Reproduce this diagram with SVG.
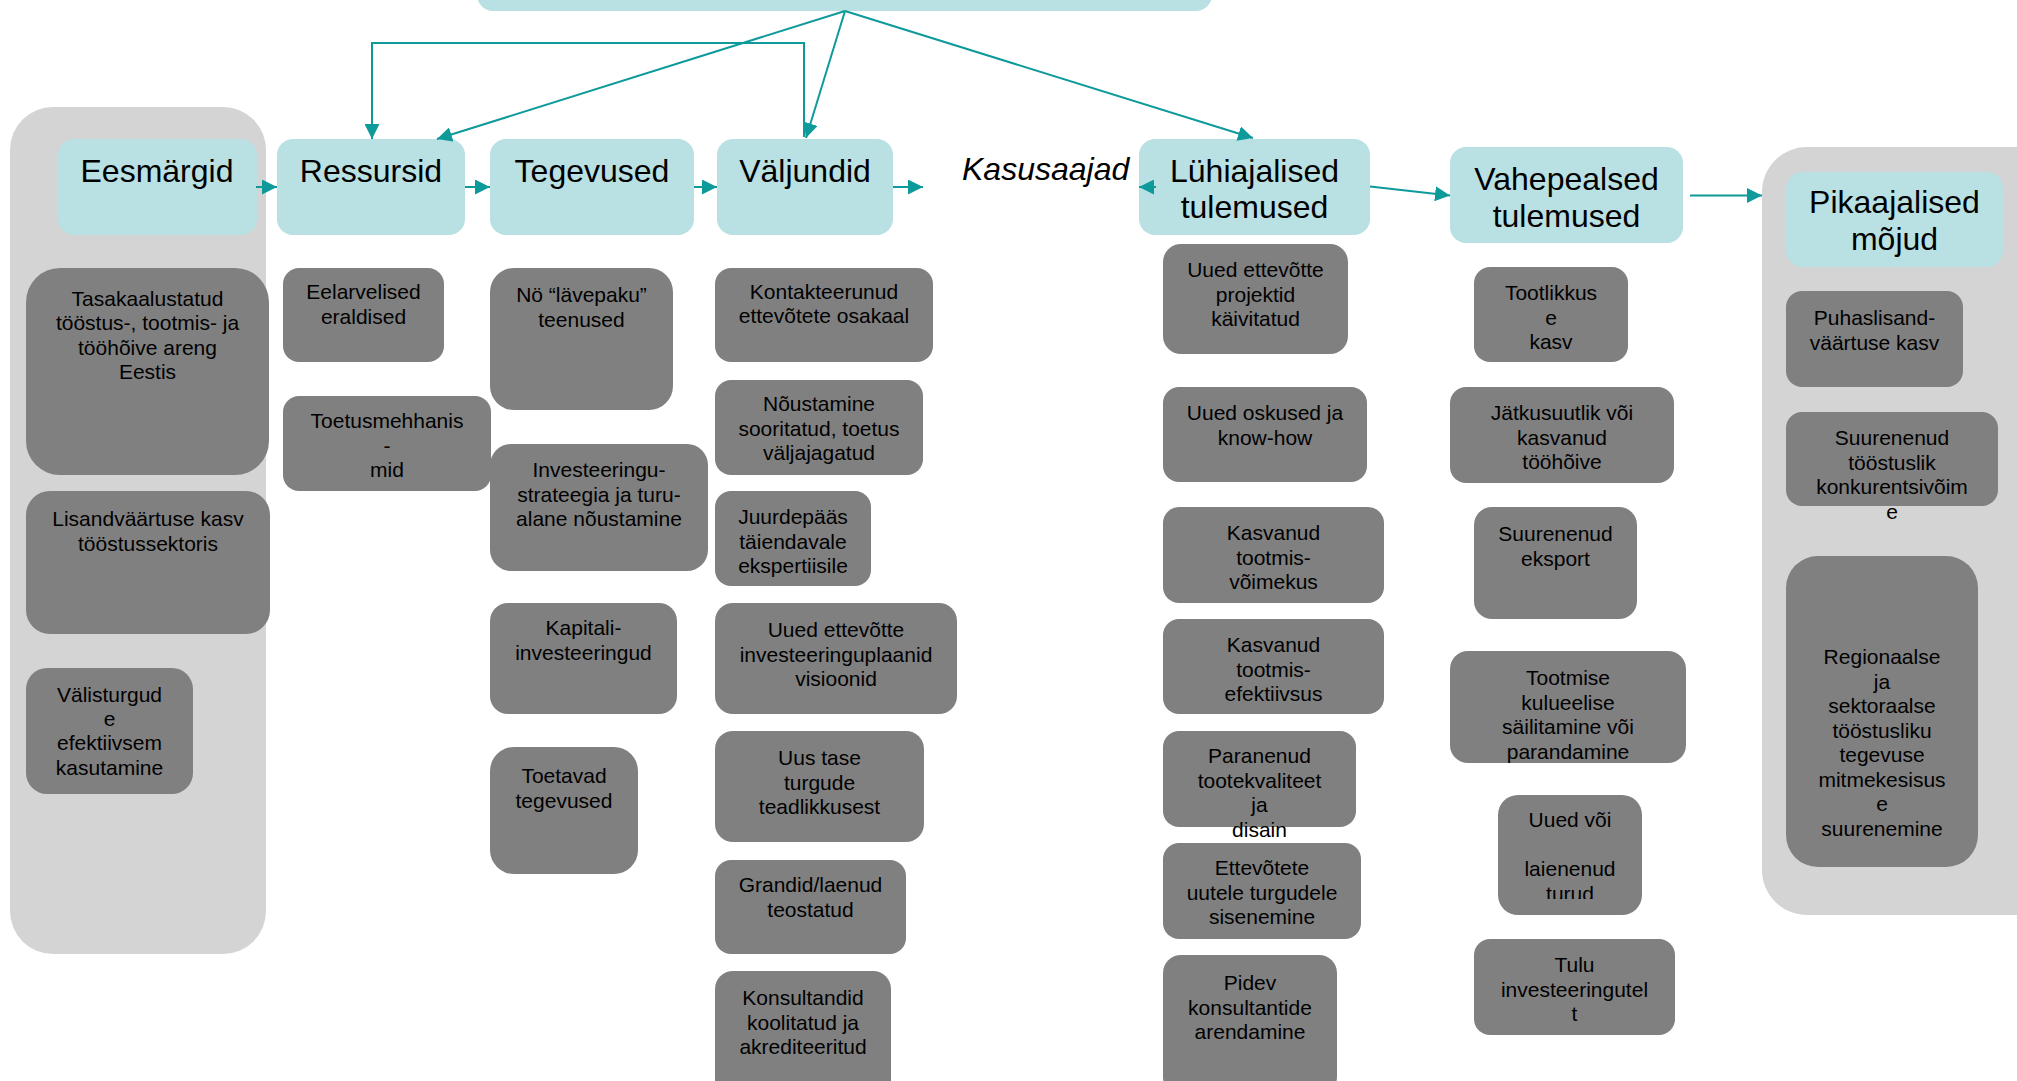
<svg xmlns="http://www.w3.org/2000/svg" width="2017" height="1081" viewBox="0 0 2017 1081">
  <style>
    .panel { fill: #D4D4D4; }
    .hdr { fill: #B9E0E3; }
    .box { fill: #808080; }
    text { font-family: "Liberation Sans", Arial, sans-serif; fill: #000; text-anchor: middle; }
    .h { font-size: 32px; }
    .t { font-size: 21px; }
    .it { font-size: 32px; font-style: italic; text-anchor: start; }
    .link { fill: none; stroke: #0E9A9A; stroke-width: 2; }
  </style>
  <defs>
    <marker id="arrow" viewBox="0 0 15 15" refX="15" refY="7.5" markerWidth="15" markerHeight="15" markerUnits="userSpaceOnUse" orient="auto">
      <path d="M0,0 L15,7.5 L0,15 z" fill="#0E9A9A"/>
    </marker>
    <clipPath id="clipTurud">
      <rect x="1498" y="795" width="144" height="104"/>
    </clipPath>
  </defs>
  <rect width="2017" height="1081" fill="#FFFFFF"/>

  <!-- background panels -->
  <rect class="panel" x="10" y="107" width="256" height="847" rx="43"/>
  <rect class="panel" x="1762" y="147" width="300" height="768" rx="45"/>

  <!-- top banner -->
  <g id="top">
    <rect class="hdr" x="477" y="-40" width="735" height="51" rx="16"/>
  </g>

  <!-- column headers -->
  <g id="eesmargid"><rect class="hdr" x="58" y="139" width="199" height="96" rx="16"/><text class="h" x="157" y="182">Eesmärgid</text></g>
  <g id="ressursid"><rect class="hdr" x="277" y="139" width="188" height="96" rx="16"/><text class="h" x="371" y="182">Ressursid</text></g>
  <g id="tegevused"><rect class="hdr" x="490" y="139" width="204" height="96" rx="16"/><text class="h" x="592" y="182">Tegevused</text></g>
  <g id="valjundid"><rect class="hdr" x="717" y="139" width="176" height="96" rx="16"/><text class="h" x="805" y="182">Väljundid</text></g>
  <g id="kasusaajad"><text class="it" x="962" y="180">Kasusaajad</text></g>
  <g id="luhiajalised"><rect class="hdr" x="1139" y="139" width="231" height="96" rx="16"/><text class="h" x="1254.5" y="182">Lühiajalised</text><text class="h" x="1254.5" y="218">tulemused</text></g>
  <g id="vahepealsed"><rect class="hdr" x="1450" y="147" width="233" height="96" rx="16"/><text class="h" x="1566.5" y="190">Vahepealsed</text><text class="h" x="1566.5" y="227">tulemused</text></g>
  <g id="pikaajalised"><rect class="hdr" x="1786" y="172" width="217" height="95" rx="16"/><text class="h" x="1894.5" y="213">Pikaajalised</text><text class="h" x="1894.5" y="250">mõjud</text></g>

  <!-- Eesmärgid items -->
  <g id="e1"><rect class="box" x="26" y="268" width="243" height="207" rx="34"/>
    <text class="t" x="147.5" y="306">Tasakaalustatud</text><text class="t" x="147.5" y="330.4">tööstus-, tootmis- ja</text><text class="t" x="147.5" y="354.8">tööhõive areng</text><text class="t" x="147.5" y="379.2">Eestis</text></g>
  <g id="e2"><rect class="box" x="26" y="491" width="244" height="143" rx="24"/>
    <text class="t" x="148" y="526">Lisandväärtuse kasv</text><text class="t" x="148" y="550.5">tööstussektoris</text></g>
  <g id="e3"><rect class="box" x="26" y="668" width="167" height="126" rx="21"/>
    <text class="t" x="109.5" y="701.5">Välisturgud</text><text class="t" x="109.5" y="725.9">e</text><text class="t" x="109.5" y="750.3">efektiivsem</text><text class="t" x="109.5" y="774.7">kasutamine</text></g>

  <!-- Ressursid items -->
  <g id="r1"><rect class="box" x="283" y="268" width="161" height="94" rx="16"/>
    <text class="t" x="363.5" y="299">Eelarvelised</text><text class="t" x="363.5" y="323.5">eraldised</text></g>
  <g id="r2"><rect class="box" x="283" y="396" width="208" height="95" rx="16"/>
    <text class="t" x="387" y="428">Toetusmehhanis</text><text class="t" x="387" y="452.5">-</text><text class="t" x="387" y="477">mid</text></g>

  <!-- Tegevused items -->
  <g id="t1"><rect class="box" x="490" y="268" width="183" height="142" rx="24"/>
    <text class="t" x="581.5" y="302">Nö “lävepaku”</text><text class="t" x="581.5" y="326.5">teenused</text></g>
  <g id="t2"><rect class="box" x="490" y="444" width="218" height="127" rx="21"/>
    <text class="t" x="599" y="477">Investeeringu-</text><text class="t" x="599" y="501.5">strateegia ja turu-</text><text class="t" x="599" y="526">alane nõustamine</text></g>
  <g id="t3"><rect class="box" x="490" y="603" width="187" height="111" rx="18"/>
    <text class="t" x="583.5" y="635">Kapitali-</text><text class="t" x="583.5" y="659.5">investeeringud</text></g>
  <g id="t4"><rect class="box" x="490" y="747" width="148" height="127" rx="24"/>
    <text class="t" x="564" y="783">Toetavad</text><text class="t" x="564" y="807.5">tegevused</text></g>

  <!-- Väljundid items -->
  <g id="v1"><rect class="box" x="715" y="268" width="218" height="94" rx="16"/>
    <text class="t" x="824" y="298.5">Kontakteerunud</text><text class="t" x="824" y="323">ettevõtete osakaal</text></g>
  <g id="v2"><rect class="box" x="715" y="380" width="208" height="95" rx="16"/>
    <text class="t" x="819" y="411">Nõustamine</text><text class="t" x="819" y="435.5">sooritatud, toetus</text><text class="t" x="819" y="460">väljajagatud</text></g>
  <g id="v3"><rect class="box" x="715" y="491" width="156" height="95" rx="16"/>
    <text class="t" x="793" y="524">Juurdepääs</text><text class="t" x="793" y="548.5">täiendavale</text><text class="t" x="793" y="573">ekspertiisile</text></g>
  <g id="v4"><rect class="box" x="715" y="603" width="242" height="111" rx="18"/>
    <text class="t" x="836" y="637">Uued ettevõtte</text><text class="t" x="836" y="661.5">investeeringuplaanid</text><text class="t" x="836" y="686">visioonid</text></g>
  <g id="v5"><rect class="box" x="715" y="731" width="209" height="111" rx="18"/>
    <text class="t" x="819.5" y="765">Uus tase</text><text class="t" x="819.5" y="789.5">turgude</text><text class="t" x="819.5" y="814">teadlikkusest</text></g>
  <g id="v6"><rect class="box" x="715" y="860" width="191" height="94" rx="16"/>
    <text class="t" x="810.5" y="892">Grandid/laenud</text><text class="t" x="810.5" y="916.5">teostatud</text></g>
  <g id="v7"><rect class="box" x="715" y="971" width="176" height="140" rx="18"/>
    <text class="t" x="803" y="1005">Konsultandid</text><text class="t" x="803" y="1029.5">koolitatud ja</text><text class="t" x="803" y="1054">akrediteeritud</text></g>

  <!-- Lühiajalised tulemused items -->
  <g id="l1"><rect class="box" x="1163" y="244" width="185" height="110" rx="18"/>
    <text class="t" x="1255.5" y="277">Uued ettevõtte</text><text class="t" x="1255.5" y="301.5">projektid</text><text class="t" x="1255.5" y="326">käivitatud</text></g>
  <g id="l2"><rect class="box" x="1163" y="387" width="204" height="95" rx="16"/>
    <text class="t" x="1265" y="420">Uued oskused ja</text><text class="t" x="1265" y="444.5">know-how</text></g>
  <g id="l3"><rect class="box" x="1163" y="507" width="221" height="96" rx="16"/>
    <text class="t" x="1273.5" y="540">Kasvanud</text><text class="t" x="1273.5" y="564.5">tootmis-</text><text class="t" x="1273.5" y="589">võimekus</text></g>
  <g id="l4"><rect class="box" x="1163" y="619" width="221" height="95" rx="16"/>
    <text class="t" x="1273.5" y="652">Kasvanud</text><text class="t" x="1273.5" y="676.5">tootmis-</text><text class="t" x="1273.5" y="701">efektiivsus</text></g>
  <g id="l5"><rect class="box" x="1163" y="731" width="193" height="96" rx="16"/>
    <text class="t" x="1259.5" y="763">Paranenud</text><text class="t" x="1259.5" y="787.5">tootekvaliteet</text><text class="t" x="1259.5" y="812">ja</text><text class="t" x="1259.5" y="836.5">disain</text></g>
  <g id="l6"><rect class="box" x="1163" y="843" width="198" height="96" rx="16"/>
    <text class="t" x="1262" y="875">Ettevõtete</text><text class="t" x="1262" y="899.5">uutele turgudele</text><text class="t" x="1262" y="924">sisenemine</text></g>
  <g id="l7"><rect class="box" x="1163" y="955" width="174" height="140" rx="18"/>
    <text class="t" x="1250" y="990">Pidev</text><text class="t" x="1250" y="1014.5">konsultantide</text><text class="t" x="1250" y="1039">arendamine</text></g>

  <!-- Vahepealsed tulemused items -->
  <g id="m1"><rect class="box" x="1474" y="267" width="154" height="95" rx="16"/>
    <text class="t" x="1551" y="300">Tootlikkus</text><text class="t" x="1551" y="324.5">e</text><text class="t" x="1551" y="349">kasv</text></g>
  <g id="m2"><rect class="box" x="1450" y="387" width="224" height="96" rx="16"/>
    <text class="t" x="1562" y="420">Jätkusuutlik või</text><text class="t" x="1562" y="444.5">kasvanud</text><text class="t" x="1562" y="469">tööhõive</text></g>
  <g id="m3"><rect class="box" x="1474" y="507" width="163" height="112" rx="18"/>
    <text class="t" x="1555.5" y="541">Suurenenud</text><text class="t" x="1555.5" y="565.5">eksport</text></g>
  <g id="m4"><rect class="box" x="1450" y="651" width="236" height="112" rx="18"/>
    <text class="t" x="1568" y="685">Tootmise</text><text class="t" x="1568" y="709.5">kulueelise</text><text class="t" x="1568" y="734">säilitamine või</text><text class="t" x="1568" y="758.5">parandamine</text></g>
  <g id="m5"><rect class="box" x="1498" y="795" width="144" height="120" rx="20"/>
    <g clip-path="url(#clipTurud)"><text class="t" x="1570" y="827">Uued või</text><text class="t" x="1570" y="876">laienenud</text><text class="t" x="1570" y="900.5">turud</text></g></g>
  <g id="m6"><rect class="box" x="1474" y="939" width="201" height="96" rx="16"/>
    <text class="t" x="1574.5" y="972">Tulu</text><text class="t" x="1574.5" y="996.5">investeeringutel</text><text class="t" x="1574.5" y="1021">t</text></g>

  <!-- Pikaajalised mõjud items -->
  <g id="p1"><rect class="box" x="1786" y="291" width="177" height="96" rx="16"/>
    <text class="t" x="1874.5" y="325">Puhaslisand-</text><text class="t" x="1874.5" y="349.5">väärtuse kasv</text></g>
  <g id="p2"><rect class="box" x="1786" y="412" width="212" height="94" rx="16"/>
    <text class="t" x="1892" y="445">Suurenenud</text><text class="t" x="1892" y="469.5">tööstuslik</text><text class="t" x="1892" y="494">konkurentsivõim</text><text class="t" x="1892" y="518.5">e</text></g>
  <g id="p3"><rect class="box" x="1786" y="556" width="192" height="311" rx="32"/>
    <text class="t" x="1882" y="664">Regionaalse</text><text class="t" x="1882" y="688.5">ja</text><text class="t" x="1882" y="713">sektoraalse</text><text class="t" x="1882" y="737.5">tööstusliku</text><text class="t" x="1882" y="762">tegevuse</text><text class="t" x="1882" y="786.5">mitmekesisus</text><text class="t" x="1882" y="811">e</text><text class="t" x="1882" y="835.5">suurenemine</text></g>

  <!-- connectors -->
  <g id="connectors">
    <path class="link" marker-end="url(#arrow)" d="M256,187 H277"/>
    <path class="link" marker-end="url(#arrow)" d="M465,187 H490"/>
    <path class="link" marker-end="url(#arrow)" d="M694,187 H717"/>
    <path class="link" marker-end="url(#arrow)" d="M893,187 H923"/>
    <path class="link" marker-end="url(#arrow)" d="M1156,187 H1139"/>
    <path class="link" marker-end="url(#arrow)" d="M1370,186.5 L1450,195.5"/>
    <path class="link" marker-end="url(#arrow)" d="M1690,195.5 H1762"/>
    <path class="link" marker-end="url(#arrow)" d="M804,137 V43 H372 V139"/>
    <path class="link" marker-end="url(#arrow)" d="M845,11 L437,139"/>
    <path class="link" marker-end="url(#arrow)" d="M845,11 L806,138"/>
    <path class="link" marker-end="url(#arrow)" d="M845,11 L1253,138"/>
  </g>
</svg>
